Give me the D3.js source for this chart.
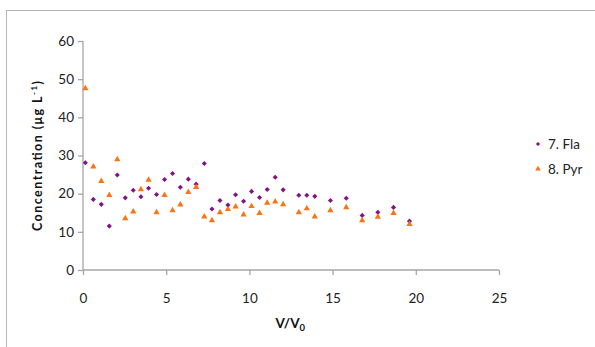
<!DOCTYPE html>
<html><head><meta charset="utf-8">
<script src="https://cdn.jsdelivr.net/npm/d3@7"></script>
<style>body{margin:0;background:#fff}svg{display:block}text{font-family:Lato,"Open Sans",sans-serif}</style>
</head><body>
<svg id="c" width="595" height="347"></svg>
<script>
const xValues = [0.14,0.62,1.10,1.58,2.06,2.54,3.02,3.48,3.94,4.42,4.90,5.38,5.85,6.33,6.80,7.29,7.75,8.23,8.71,9.17,9.65,10.13,10.61,11.07,11.55,12.03,12.97,13.45,13.93,14.87,15.82,16.78,17.72,18.66,19.62];
const fla = [28.1,18.5,17.2,11.5,24.9,18.9,20.9,19.2,21.4,19.8,23.7,25.3,21.7,23.8,22.5,27.9,16.0,18.2,17.0,19.7,18.0,20.6,19.0,21.1,24.3,21.0,19.6,19.6,19.3,18.2,18.8,14.3,15.1,16.4,12.8];
const pyr = [47.6,27.1,23.3,19.6,29.0,13.5,15.3,21.1,23.6,15.1,19.6,15.6,17.1,20.4,21.7,14.0,13.0,15.1,15.9,16.6,14.5,16.7,14.9,17.6,17.9,17.2,15.1,16.1,14.0,15.6,16.4,13.0,13.9,14.9,12.0];
const xTicks = [0,5,10,15,20,25];
const yTicks = [0,10,20,30,40,50,60];
const seriesNames = ["7. Fla","8. Pyr"];
const colors = ["#7f1483","#f87416"];

const svg = d3.select("#c");
const x = d3.scaleLinear().domain([0,25]).range([83,499]);
const y = d3.scaleLinear().domain([0,60]).range([270,41]);
const axisColor = "#a6a6a6";

svg.append("rect").attr("x",6.5).attr("y",10.5).attr("width",700).attr("height",400)
  .attr("fill","none").attr("stroke","#b5b5b5").attr("stroke-width",1);

const gy = svg.append("g").attr("transform","translate(83,0)")
  .call(d3.axisLeft(y).tickValues(yTicks).tickSize(5).tickPadding(4));
const gx = svg.append("g").attr("transform","translate(0,270)")
  .call(d3.axisBottom(x).tickValues(xTicks).tickSize(5).tickPadding(18));
[gx,gy].forEach(g=>{
  g.selectAll("path,line").attr("stroke",axisColor).attr("stroke-width",1.3);
  g.selectAll("text").attr("font-size",13.5).attr("fill","#222").style("font-family","Lato,'Open Sans',sans-serif");
});
gy.select(".domain").attr("d","M83,41V270").attr("transform","translate(-83,0)");
gx.select(".domain").attr("d","M83,0H499");

const diamond = d3.symbol().type(d3.symbolSquare).size(13);
const tri = d3.symbol().type(d3.symbolTriangle).size(17);

svg.append("g").selectAll("path").data(xValues.map((v,i)=>[v,fla[i]])).join("path")
  .attr("d",diamond).attr("fill",colors[0])
  .attr("transform",d=>`translate(${x(d[0])},${y(d[1])}) rotate(45)`);
svg.append("g").selectAll("path").data(xValues.map((v,i)=>[v,pyr[i]])).join("path")
  .attr("d",tri).attr("fill",colors[1])
  .attr("transform",d=>`translate(${x(d[0])},${y(d[1])})`);

// axis titles (centered via measured bbox)
function centered(g){
  const t = g.select("text");
  const b = t.node().getBBox();
  t.attr("x", -b.width/2);
}
const xt = svg.append("g").attr("transform","translate(291,328)");
xt.append("text").attr("x",0).attr("y",0)
  .attr("font-weight","bold").attr("font-size",13.5).attr("fill","#111")
  .html('V/V<tspan font-size="9.5" dy="3">0</tspan>');
centered(xt);
const yt = svg.append("g").attr("transform","translate(42,156) rotate(-90)");
yt.append("text").attr("x",0).attr("y",0)
  .attr("font-weight","bold").attr("font-size",12.5).attr("fill","#111")
  .attr("textLength",150).attr("lengthAdjust","spacing")
  .html('Concentration (μg L<tspan font-size="8" dy="-5">-1</tspan><tspan dy="5">)</tspan>');
centered(yt);

// legend
const lg = svg.append("g");
const legendSyms = [d3.symbol().type(d3.symbolSquare).size(9), d3.symbol().type(d3.symbolTriangle).size(13)];
seriesNames.forEach((n,i)=>{
  const ly = 144 + i*25;
  lg.append("path").attr("d",legendSyms[i]).attr("fill",colors[i])
    .attr("transform",`translate(538,${ly})${i===0?" rotate(45)":""}`);
  lg.append("text").attr("x",548).attr("y",ly+5).attr("font-size",13.5).attr("fill","#222").text(n);
});
</script>
</body></html>
